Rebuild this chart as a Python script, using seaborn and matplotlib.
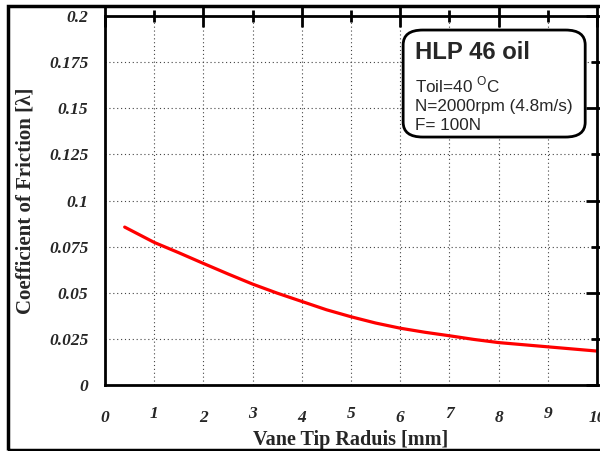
import numpy as np
import matplotlib
matplotlib.use("Agg")
import matplotlib.pyplot as plt
import seaborn as sns
import pandas as pd
from matplotlib.patches import FancyBboxPatch, Rectangle

# ==========================================
# DATA
# ==========================================

radius = [0.4, 1, 1.5, 2, 2.5, 3, 3.5, 4, 4.5, 5, 5.5, 6, 6.5, 7, 7.5, 8, 9, 10]
friction = [0.0856, 0.0773, 0.0717, 0.0659, 0.0602, 0.0547, 0.0498, 0.0453, 0.0408,
            0.0370, 0.0336, 0.0308, 0.0286, 0.0267, 0.0247, 0.0230, 0.0207, 0.0184]

x_major = [0, 2, 4, 6, 8, 10]
x_minor = [1, 3, 5, 7, 9]
y_major = [0, 0.05, 0.1, 0.15, 0.2]
y_major_labels = ["0", "0.05", "0.1", "0.15", "0.2"]
y_minor = [0.025, 0.075, 0.125, 0.175]
y_minor_labels = ["0.025", "0.075", "0.125", "0.175"]

df = pd.DataFrame({"radius": radius, "friction": friction})

# ==========================================
# STYLE
# ==========================================

sns.set_style("white")
plt.rcParams["font.family"] = ["Liberation Serif", "DejaVu Serif"]
plt.rcParams["mathtext.fontset"] = "custom"
plt.rcParams["mathtext.rm"] = "Liberation Sans"

fig = plt.figure(figsize=(6, 4.51), dpi=100)
ax = fig.add_axes([0.175, 0.1463, 0.82, 0.8182])

sns.lineplot(data=df, x="radius", y="friction", color="#ff0000", linewidth=2.3, ax=ax)

ax.set_xlim(0, 10)
ax.set_ylim(0, 0.2)

tick_font = dict(fontsize=12.5, fontweight="bold", fontstyle="italic")
ax.set_xticks(x_major, [str(v) for v in x_major], **tick_font)
ax.set_xticks(x_minor, [str(v) for v in x_minor], minor=True, **tick_font)
ax.set_yticks(y_major, y_major_labels, **tick_font)
ax.set_yticks(y_minor, y_minor_labels, minor=True, **tick_font)

ax.tick_params(which="both", direction="inout", top=True, right=True,
               color="black", width=2)
ax.tick_params(axis="x", which="major", length=16, pad=10)
ax.tick_params(axis="x", which="minor", length=8, pad=11)
ax.tick_params(axis="y", which="major", length=16, pad=4)
ax.tick_params(axis="y", which="minor", length=8, pad=8)

ax.grid(True, which="both", linestyle=(0, (1, 2.5)), color="#444444", linewidth=0.8)

for s in ax.spines.values():
    s.set_linewidth(2)
    s.set_color("black")

ax.set_xlabel("Vane Tip Raduis [mm]", fontsize=14.5, fontweight="bold", labelpad=3)
ax.set_ylabel("Coefficient of Friction [λ]", fontsize=15, fontweight="bold", labelpad=10)

# ==========================================
# INFO BOX
# ==========================================

box = FancyBboxPatch((0.606, 0.672), 0.37, 0.29, transform=ax.transAxes,
                     boxstyle="round,pad=0,rounding_size=0.04",
                     facecolor="white", edgecolor="black", linewidth=2, zorder=5)
ax.add_patch(box)
ax.text(0.630, 0.900, "HLP 46 oil", transform=ax.transAxes, fontsize=17.2,
        fontweight="bold", family="Liberation Sans", va="center", ha="left", zorder=6)
ax.text(0.630, 0.842, "Toil=40 $^{\\rm O}$C\nN=2000rpm (4.8m/s)\nF= 100N",
        transform=ax.transAxes, fontsize=12.3, family="Liberation Sans",
        va="top", ha="left", linespacing=1.33, zorder=6)

fig.patches.append(Rectangle((0.014, 0.003), 0.99, 0.983, transform=fig.transFigure,
                             fill=False, edgecolor="black", linewidth=2.5))

fig.savefig("out.png", dpi=100)
